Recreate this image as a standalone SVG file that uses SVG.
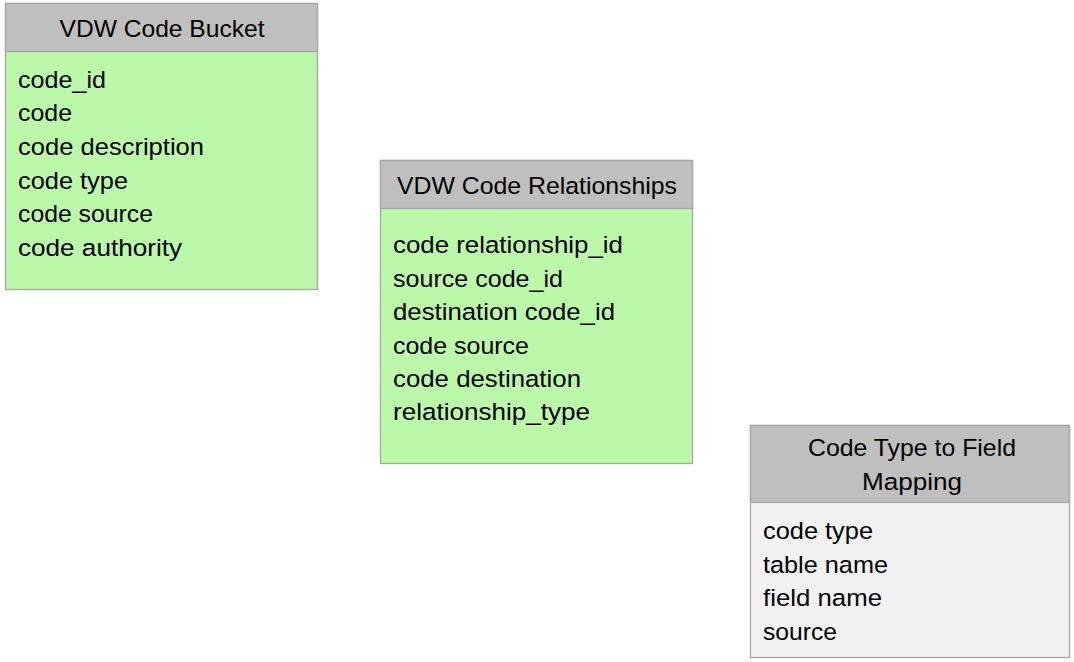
<svg xmlns="http://www.w3.org/2000/svg" width="1074" height="662" viewBox="0 0 1074 662">
<style>
.hd{fill:#bfbfbf;stroke:#a6a6a6;stroke-width:1.3}
.bg{fill:#bbf8a9;stroke:#a6a6a6;stroke-width:1.3}
.bw{fill:#f2f2f2;stroke:#a6a6a6;stroke-width:1.3}
text{font-family:"Liberation Sans",Arial,sans-serif;font-size:24.5px;fill:#000}
.c{text-anchor:middle}
</style>
<rect width="1074" height="662" fill="#ffffff"/>
<g id="connectors"></g>
<g id="vdw-code-bucket">
<rect class="bg" x="5.5" y="3.5" width="312" height="286"/>
<rect class="hd" x="5.5" y="3.5" width="312" height="48"/>
<text class="c" x="162" y="37" textLength="205" lengthAdjust="spacingAndGlyphs">VDW Code Bucket</text>
<text x="18" y="88" textLength="88" lengthAdjust="spacingAndGlyphs">code_id</text>
<text x="18" y="121" textLength="54" lengthAdjust="spacingAndGlyphs">code</text>
<text x="18" y="155" textLength="186" lengthAdjust="spacingAndGlyphs">code description</text>
<text x="18" y="189" textLength="110" lengthAdjust="spacingAndGlyphs">code type</text>
<text x="18" y="222" textLength="135" lengthAdjust="spacingAndGlyphs">code source</text>
<text x="18" y="256" textLength="164" lengthAdjust="spacingAndGlyphs">code authority</text>
</g>
<g id="vdw-code-relationships">
<rect class="bg" x="380.5" y="160.5" width="312" height="303"/>
<rect class="hd" x="380.5" y="160.5" width="312" height="48"/>
<text class="c" x="537" y="194" textLength="280" lengthAdjust="spacingAndGlyphs">VDW Code Relationships</text>
<text x="393" y="253" textLength="230" lengthAdjust="spacingAndGlyphs">code relationship_id</text>
<text x="393" y="287" textLength="170" lengthAdjust="spacingAndGlyphs">source code_id</text>
<text x="393" y="320" textLength="222" lengthAdjust="spacingAndGlyphs">destination code_id</text>
<text x="393" y="354" textLength="136" lengthAdjust="spacingAndGlyphs">code source</text>
<text x="393" y="387" textLength="188" lengthAdjust="spacingAndGlyphs">code destination</text>
<text x="393" y="420" textLength="197" lengthAdjust="spacingAndGlyphs">relationship_type</text>
</g>
<g id="code-type-to-field-mapping">
<rect class="bw" x="750.5" y="425.5" width="319" height="232"/>
<rect class="hd" x="750.5" y="425.5" width="319" height="77"/>
<text class="c" x="912" y="456" textLength="208" lengthAdjust="spacingAndGlyphs">Code Type to Field</text>
<text class="c" x="912" y="490" textLength="100" lengthAdjust="spacingAndGlyphs">Mapping</text>
<text x="763" y="539" textLength="110" lengthAdjust="spacingAndGlyphs">code type</text>
<text x="763" y="573" textLength="125" lengthAdjust="spacingAndGlyphs">table name</text>
<text x="763" y="606" textLength="119" lengthAdjust="spacingAndGlyphs">field name</text>
<text x="763" y="640" textLength="74" lengthAdjust="spacingAndGlyphs">source</text>
</g>
</svg>
